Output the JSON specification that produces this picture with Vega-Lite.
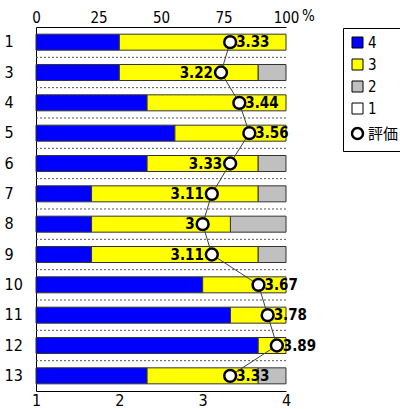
{
  "$schema": "https://vega.github.io/schema/vega-lite/v6.json",
  "width": 250,
  "height": 364,
  "autosize": "none",
  "padding": {"left": 36, "top": 27, "right": 114, "bottom": 18},
  "background": "white",
  "config": {
    "view": {"stroke": null},
    "axis": {
      "domainColor": "#000",
      "domainWidth": 1,
      "labelColor": "#000",
      "labelFont": "DejaVu Sans Condensed, DejaVu Sans",
      "labelFontSize": 15,
      "ticks": false,
      "tickSize": 0,
      "grid": false,
      "labelFlush": false
    }
  },
  "datasets": {
    "dist": [
      {"q": "1", "level": "4", "pct": 33.33}, {"q": "1", "level": "3", "pct": 66.67},
      {"q": "3", "level": "4", "pct": 33.33}, {"q": "3", "level": "3", "pct": 55.56}, {"q": "3", "level": "2", "pct": 11.11},
      {"q": "4", "level": "4", "pct": 44.44}, {"q": "4", "level": "3", "pct": 55.56},
      {"q": "5", "level": "4", "pct": 55.56}, {"q": "5", "level": "3", "pct": 44.44},
      {"q": "6", "level": "4", "pct": 44.44}, {"q": "6", "level": "3", "pct": 44.44}, {"q": "6", "level": "2", "pct": 11.11},
      {"q": "7", "level": "4", "pct": 22.22}, {"q": "7", "level": "3", "pct": 66.67}, {"q": "7", "level": "2", "pct": 11.11},
      {"q": "8", "level": "4", "pct": 22.22}, {"q": "8", "level": "3", "pct": 55.56}, {"q": "8", "level": "2", "pct": 22.22},
      {"q": "9", "level": "4", "pct": 22.22}, {"q": "9", "level": "3", "pct": 66.67}, {"q": "9", "level": "2", "pct": 11.11},
      {"q": "10", "level": "4", "pct": 66.67}, {"q": "10", "level": "3", "pct": 33.33},
      {"q": "11", "level": "4", "pct": 77.78}, {"q": "11", "level": "3", "pct": 22.22},
      {"q": "12", "level": "4", "pct": 88.89}, {"q": "12", "level": "3", "pct": 11.11},
      {"q": "13", "level": "4", "pct": 44.44}, {"q": "13", "level": "3", "pct": 44.44}, {"q": "13", "level": "2", "pct": 11.11}
    ],
    "score": [
      {"q": "1", "score": 3.33},
      {"q": "3", "score": 3.22},
      {"q": "4", "score": 3.44},
      {"q": "5", "score": 3.56},
      {"q": "6", "score": 3.33},
      {"q": "7", "score": 3.11},
      {"q": "8", "score": 3},
      {"q": "9", "score": 3.11},
      {"q": "10", "score": 3.67},
      {"q": "11", "score": 3.78},
      {"q": "12", "score": 3.89},
      {"q": "13", "score": 3.33}
    ]
  },
  "encoding": {
    "y": {
      "field": "q",
      "type": "nominal",
      "scale": {"domain": ["1", "3", "4", "5", "6", "7", "8", "9", "10", "11", "12", "13"], "paddingInner": 0, "paddingOuter": 0},
      "axis": {"title": null, "labelAlign": "left", "labelPadding": 32, "labelBaseline": "middle", "labelFontSize": 16, "domain": true}
    }
  },
  "layer": [
    {
      "data": {"name": "dist"},
      "mark": {"type": "bar", "size": 16, "stroke": "#333", "strokeWidth": 1},
      "encoding": {
        "x": {
          "field": "pct",
          "type": "quantitative",
          "stack": "zero",
          "scale": {"domain": [0, 100], "nice": false},
          "axis": {
            "orient": "top",
            "values": [0, 25, 50, 75, 100],
            "labelPadding": 2,
            "title": "%",
            "titleX": 272,
            "titleY": -12,
            "titleBaseline": "middle",
            "titleAlign": "center",
            "titleFont": "DejaVu Sans Condensed, DejaVu Sans",
            "titleFontSize": 15,
            "titleFontWeight": "normal",
            "titleColor": "#000"
          }
        },
        "color": {
          "field": "level",
          "type": "nominal",
          "scale": {"domain": ["4", "3", "2", "1", "評価"], "range": ["#0000FF", "#FFFF00", "#C0C0C0", "#FFFFFF", "#FFFFFF"]},
          "legend": {
            "title": null,
            "orient": "none",
            "legendX": 307,
            "legendY": 1,
            "strokeColor": "#000",
            "fillColor": "#fff",
            "padding": 7,
            "rowPadding": 6,
            "symbolSize": 121,
            "symbolType": "square",
            "symbolStrokeColor": "#000",
            "symbolStrokeWidth": 1,
            "symbolOpacity": 1,
            "labelFontSize": 15,
            "labelFont": "DejaVu Sans Condensed, Noto Sans CJK JP",
            "labelOffset": 3,
            "labelColor": "#000",
            "encode": {
              "symbols": {
                "update": {
                  "shape": {"signal": "datum.value === '評価' ? 'circle' : 'square'"},
                  "strokeWidth": {"signal": "datum.value === '評価' ? 2.5 : 1"}
                }
              }
            }
          }
        },
        "order": {"field": "level", "type": "nominal", "sort": "descending"}
      }
    },
    {
      "data": {"name": "score"},
      "transform": [{"filter": "datum.q != '1'"}],
      "mark": {"type": "rule", "stroke": "#555", "strokeDash": [2, 2], "strokeWidth": 1, "yOffset": -15.17},
      "encoding": {
        "y": {"field": "q", "type": "nominal"}
      }
    },
    {
      "data": {"name": "score"},
      "transform": [{"window": [{"op": "row_number", "as": "idx"}]}],
      "encoding": {
        "x": {
          "field": "score",
          "type": "quantitative",
          "scale": {"domain": [1, 4], "nice": false},
          "axis": {"orient": "bottom", "values": [1, 2, 3, 4], "title": null, "labelPadding": 1, "labelFontSize": 16, "format": "d"}
        }
      },
      "layer": [
        {
          "transform": [{"filter": "indexof(['3','6','7','8','9'], datum.q) < 0"}],
          "mark": {"type": "text", "align": "left", "baseline": "middle", "dx": 6, "fontWeight": "bold", "fontSize": 15, "font": "DejaVu Sans Condensed, DejaVu Sans", "color": "#000"},
          "encoding": {"text": {"field": "score", "type": "quantitative", "format": ".3~g"}}
        },
        {
          "transform": [{"filter": "indexof(['3','6','7','8','9'], datum.q) >= 0"}],
          "mark": {"type": "text", "align": "right", "baseline": "middle", "dx": -8, "fontWeight": "bold", "fontSize": 15, "font": "DejaVu Sans Condensed, DejaVu Sans", "color": "#000"},
          "encoding": {"text": {"field": "score", "type": "quantitative", "format": ".3~g"}}
        },
        {
          "mark": {"type": "line", "color": "#404040", "strokeWidth": 1},
          "encoding": {"order": {"field": "idx", "type": "quantitative"}}
        },
        {
          "mark": {"type": "point", "shape": "circle", "filled": true, "fill": "#fff", "stroke": "#000", "strokeWidth": 2.5, "size": 140, "opacity": 1},
          "encoding": {}
        }
      ]
    }
  ],
  "resolve": {"scale": {"x": "independent"}, "axis": {"x": "independent"}}
}
